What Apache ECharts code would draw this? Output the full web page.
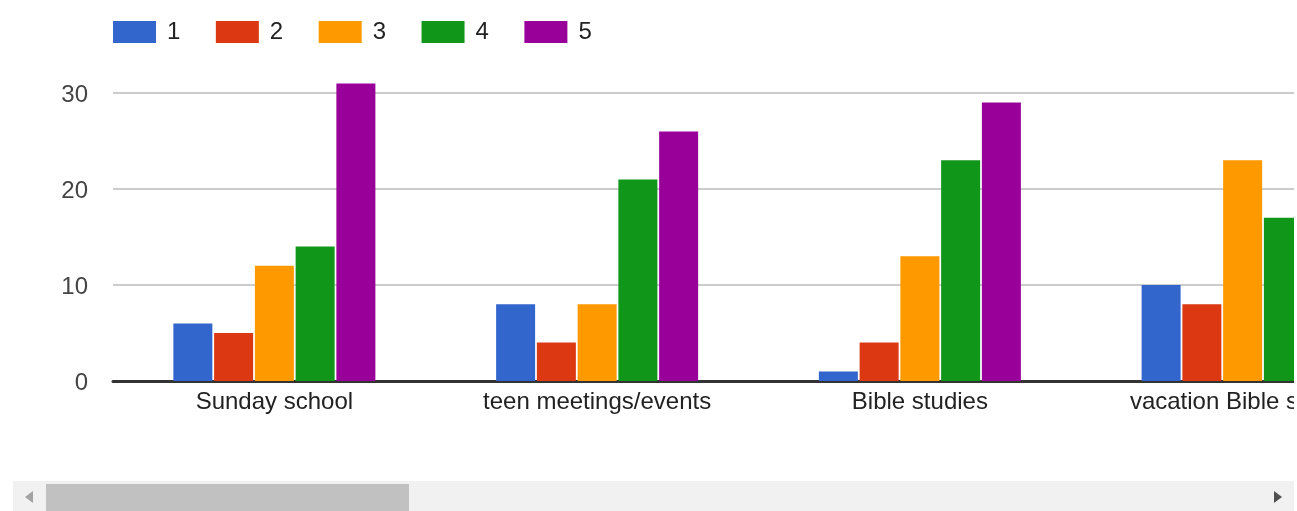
<!DOCTYPE html>
<html>
<head>
<meta charset="utf-8">
<script src="https://cdn.jsdelivr.net/npm/echarts@6/dist/echarts.min.js"></script>
<style>
  html, body { margin: 0; padding: 0; background: #fff; overflow: hidden; }
  .viewport { position: absolute; left: 0; top: 0; width: 1294px; height: 470px; overflow: hidden; }
  #chart { width: 1420px; height: 470px; }
  .track { position: absolute; left: 13px; top: 481px; width: 1281px; height: 30px; background: #f1f1f1; }
  .thumb { position: absolute; left: 33px; top: 3px; width: 363px; height: 27px; background: #c1c1c1; }
  .arrow-l, .arrow-r { position: absolute; top: 10px; width: 0; height: 0; border-top: 6px solid transparent; border-bottom: 6px solid transparent; }
  .arrow-l { left: 12px; border-right: 8px solid #a3a3a3; }
  .arrow-r { left: 1261px; border-left: 8px solid #505050; }
</style>
</head>
<body>
<div class="viewport"><div id="chart"></div></div>
<div class="track">
  <div class="arrow-l"></div>
  <div class="thumb"></div>
  <div class="arrow-r"></div>
</div>
<script>
const categories = ['Sunday school', 'teen meetings/events', 'Bible studies', 'vacation Bible school']
const seriesNames = ['1', '2', '3', '4', '5']
const rating1 = [6, 8, 1, 10]
const rating2 = [5, 4, 4, 8]
const rating3 = [12, 8, 13, 23]
const rating4 = [14, 21, 23, 17]
const rating5 = [31, 26, 29, null] // last one is off screen
const yTicks = [0, 10, 20, 30]

const colors = ['#3366cc', '#dc3912', '#ff9900', '#109618', '#990099']
const values = [rating1, rating2, rating3, rating4, rating5]
const font = 'Arial, "Liberation Sans", sans-serif'

const chart = echarts.init(document.getElementById('chart'))

chart.setOption({
  animation: false,
  color: colors,
  legend: {
    data: seriesNames,
    left: 108,
    top: 15,
    icon: 'rect',
    itemWidth: 43,
    itemHeight: 22,
    itemGap: 35.5,
    textStyle: { fontFamily: font, fontSize: 24, color: '#222', padding: [0, 0, 0, 6] }
  },
  grid: {
    left: 113,
    top: 93,
    width: 1291,
    bottom: 89
  },
  xAxis: {
    type: 'category',
    data: categories,
    axisTick: { show: false },
    axisLine: { lineStyle: { color: '#333', width: 3 } },
    axisLabel: { fontFamily: font, fontSize: 24, color: '#222', margin: 9 }
  },
  yAxis: {
    type: 'value',
    min: yTicks[0],
    max: yTicks[yTicks.length - 1],
    interval: 10,
    axisLine: { show: false },
    axisTick: { show: false },
    axisLabel: {
      margin: 25,
      formatter: '{a|{value}}',
      rich: { a: { fontFamily: font, fontSize: 24, color: '#444', padding: [4, 0, 0, 0] } }
    },
    splitLine: { lineStyle: { color: '#ccc', width: 2 } }
  },
  series: seriesNames.map((name, i) => ({
    name: name,
    type: 'bar',
    data: values[i],
    barWidth: 39,
    barGap: '4.5%',
    clip: false,
    itemStyle: { color: colors[i] }
  }))
})
</script>
</body>
</html>
